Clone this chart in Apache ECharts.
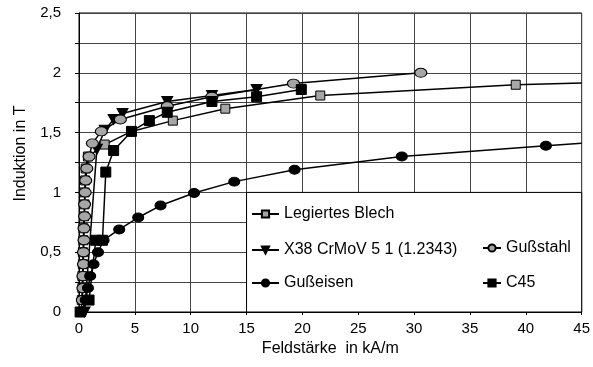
<!DOCTYPE html>
<html>
<head>
<meta charset="utf-8">
<script src="https://cdn.jsdelivr.net/npm/echarts@6/dist/echarts.min.js"></script>
<style>
  html, body { margin: 0; padding: 0; background: #fff; }
  #chart { width: 593px; height: 367px; }
</style>
</head>
<body>
<div id="chart"></div>
<script>
// Werte: [Feldstärke kA/m, Induktion T]
const blech = [[0.2,0],[0.25,0.1],[0.3,0.2],[0.3,0.3],[0.35,0.4],[0.35,0.5],[0.4,0.6],[0.4,0.7],[0.45,0.8],[0.5,0.9],[0.5,1.0],[0.55,1.1],[0.6,1.2],[0.8,1.3],[2.3,1.4],[4.7,1.51],[8.4,1.6],[13.1,1.7],[21.6,1.81],[39.1,1.9],[45,1.915]]
const x38 = [[0.5,0],[1.6,1.36],[2.3,1.52],[3.1,1.61],[3.9,1.66],[7.9,1.76],[11.9,1.81],[15.9,1.86]]
const stahl = [[0.3,0.1],[0.35,0.2],[0.35,0.3],[0.4,0.4],[0.4,0.5],[0.45,0.6],[0.45,0.7],[0.5,0.8],[0.5,0.9],[0.55,1.0],[0.6,1.1],[0.7,1.2],[0.9,1.3],[1.2,1.41],[2.0,1.51],[3.7,1.61],[7.9,1.72],[11.9,1.8],[19.2,1.91],[30.6,2.0]]
const eisen = [[0.2,0],[0.6,0.1],[0.8,0.2],[1.0,0.3],[1.3,0.4],[1.7,0.5],[2.2,0.6],[3.6,0.69],[5.3,0.79],[7.3,0.89],[10.3,0.995],[13.9,1.09],[19.3,1.19],[28.9,1.3],[41.8,1.39],[45,1.41]]
const c45 = [[0.1,0],[0.9,0.1],[1.5,0.6],[2.1,0.6],[2.4,1.17],[3.1,1.35],[4.7,1.51],[6.3,1.6],[7.9,1.67],[11.9,1.76],[15.9,1.8],[19.9,1.86]]

const names = ['Legiertes Blech', 'X38 CrMoV 5 1 (1.2343)', 'Gußstahl', 'Gußeisen', 'C45']

const font = 'Liberation Sans, Arial, sans-serif'
let chart = echarts.init(document.getElementById('chart'))

// letzter Punkt ohne Marker (Linie läuft bis zum Rand)
function pts(arr, lastPlain) {
  return arr.map((p, i) => (lastPlain && i === arr.length - 1) ? { value: p, symbol: 'none' } : p)
}

function lineSeries(name, data, symbol, size, fill) {
  return {
    name: name,
    type: 'line',
    data: data,
    symbol: symbol,
    symbolSize: size,
    showAllSymbol: true,
    clip: true,
    lineStyle: { color: '#000', width: 1.5 },
    itemStyle: { color: fill, borderColor: '#000', borderWidth: 1 },
    emphasis: { disabled: true },
    animation: false,
    z: 3
  }
}

function legendAt(name, left, top, w) {
  return {
    data: [name],
    left: left,
    top: top,
    padding: 0,
    itemWidth: w,
    itemHeight: 9,
    itemGap: 0,
    selectedMode: false,
    textStyle: { fontFamily: font, fontSize: 16, color: '#000' },
    z: 10
  }
}

let option = {
  backgroundColor: '#fff',
  animation: false,
  grid: { left: 79, right: 9, top: 13, bottom: 55, show: true, borderColor: '#000', borderWidth: 1 },
  xAxis: {
    type: 'value',
    min: 0, max: 45, interval: 5,
    name: 'Feldstärke  in kA/m',
    nameLocation: 'middle',
    nameGap: 28,
    nameTextStyle: { fontFamily: font, fontSize: 16, color: '#000' },
    axisLine: { lineStyle: { color: '#000' } },
    axisTick: { show: true, length: 3, lineStyle: { color: '#000' } },
    axisLabel: { fontFamily: font, fontSize: 15, color: '#000', margin: 9 },
    splitLine: { lineStyle: { color: '#444', width: 1 } }
  },
  yAxis: {
    type: 'value',
    min: 0, max: 2.5, interval: 0.25,
    name: 'Induktion in T',
    nameLocation: 'middle',
    nameGap: 50,
    nameTextStyle: { fontFamily: font, fontSize: 16, color: '#000', padding: [0, 0, 0, 18] },
    axisLine: { show: true, lineStyle: { color: '#000' } },
    axisTick: { show: true, length: 4, lineStyle: { color: '#000' } },
    axisLabel: {
      fontFamily: font, fontSize: 15, color: '#000', margin: 18,
      formatter: v => (Math.round(v * 100) % 50 === 0) ? String(v).replace('.', ',') : ''
    },
    splitLine: { lineStyle: { color: '#444', width: 1 } }
  },
  legend: [
    legendAt(names[0], 251, 206, 27),
    legendAt(names[1], 251, 242, 27),
    legendAt(names[2], 482, 240, 18),
    legendAt(names[3], 251, 275, 27),
    legendAt(names[4], 482, 275, 18)
  ],
  series: [
    lineSeries(names[0], pts(blech, true), 'rect', 9, '#a6a6a6'),
    lineSeries(names[1], x38, 'triangle', [11, 10], '#000'),
    lineSeries(names[2], stahl, 'circle', [12, 9], '#a6a6a6'),
    lineSeries(names[3], pts(eisen, true), 'circle', [11, 9], '#000'),
    lineSeries(names[4], c45, 'rect', 10, '#000')
  ]
}
// Dreieck mit Spitze nach unten
option.series[1].symbolRotate = 180

chart.setOption(option)

// Legendenkasten über der Ecke 15..45 / 0..1 des Diagramms
let a = chart.convertToPixel({ gridIndex: 0 }, [15, 1.0])
let b = chart.convertToPixel({ gridIndex: 0 }, [45, 0])
chart.setOption({
  graphic: [{
    type: 'rect',
    shape: { x: a[0], y: a[1], width: b[0] - a[0], height: b[1] - a[1] },
    style: { fill: '#fff', stroke: '#000', lineWidth: 1 },
    z: 5
  }]
})
</script>
</body>
</html>
